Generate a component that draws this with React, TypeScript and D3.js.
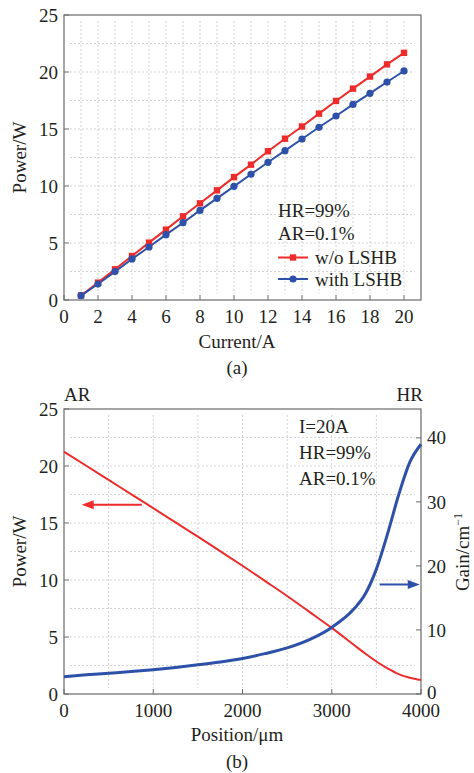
import React from 'react';
import * as d3 from 'd3';

// panel (a): output power vs current
const currents = [1, 2, 3, 4, 5, 6, 7, 8, 9, 10, 11, 12, 13, 14, 15, 16, 17, 18, 19, 20];
const powerNoLSHB = [0.4, 1.52, 2.69, 3.86, 5.03, 6.17, 7.34, 8.48, 9.62, 10.78, 11.87, 13.05, 14.15, 15.22, 16.35, 17.46, 18.54, 19.6, 20.67, 21.68];
const powerLSHB = [0.38, 1.4, 2.49, 3.6, 4.65, 5.73, 6.78, 7.86, 8.92, 9.97, 11.03, 12.08, 13.1, 14.12, 15.15, 16.14, 17.16, 18.13, 19.12, 20.09];
const xTicksA = [0, 2, 4, 6, 8, 10, 12, 14, 16, 18, 20];
const powerTicks = [0, 5, 10, 15, 20, 25];

// panel (b): longitudinal distribution at I=20A
const positions = [0, 250, 500, 750, 1000, 1250, 1500, 1750, 2000, 2250, 2500, 2750, 3000, 3250, 3375, 3500, 3625, 3750, 3875, 4000];
const powerAlong = [21.25, 20.02, 18.78, 17.54, 16.3, 15.05, 13.8, 12.53, 11.25, 9.93, 8.6, 7.2, 5.8, 4.3, 3.55, 2.85, 2.25, 1.75, 1.42, 1.22];
const gainAlong = [2.7, 3.0, 3.25, 3.5, 3.8, 4.15, 4.55, 5.0, 5.55, 6.3, 7.2, 8.5, 10.4, 13.3, 15.6, 19.5, 25.0, 31.1, 36.2, 39.0];
const xTicksB = [0, 1000, 2000, 3000, 4000];
const gainTicks = [0, 10, 20, 30, 40];

const RED = '#ee2b2b';
const BLUE = '#2d50a8';
const FRAME = '#6a6a6a';
const GRID = '#c8c8c8';
const TEXT = '#231f20';
const FONT = '"Liberation Serif", "Times New Roman", serif';
const FS = 19;

const L = 64;
const R = 421;

function Grid({ x, y, xs, ys, inset }: any) {
  const [x0, x1] = x.range();
  const [y0, y1] = y.range();
  return (
    <g stroke={GRID} strokeWidth={0.8} strokeDasharray="2,2">
      {xs.map((v: number) => (
        <line key={'gx' + v} x1={x(v)} x2={x(v)} y1={y1 + inset} y2={y0 - inset} />
      ))}
      {ys.map((v: number) => (
        <line key={'gy' + v} x1={x0 + inset} x2={x1 - inset} y1={y(v)} y2={y(v)} />
      ))}
    </g>
  );
}

function PanelA() {
  const top = 15;
  const bottom = 300;
  const x = d3.scaleLinear().domain([0, 21]).range([L, R]);
  const y = d3.scaleLinear().domain([0, 25]).range([bottom, top]);
  const gridX = d3.range(1, 21);
  const gridY = d3.range(2.5, 25, 2.5);
  const lineRed = d3.line<number>().x((_, i) => x(currents[i])).y(d => y(d));
  const lineBlue = d3.line<number>().x((_, i) => x(currents[i])).y(d => y(d));
  const lgX = 278;
  return (
    <g>
      <Grid x={x} y={y} xs={gridX} ys={gridY} inset={6} />
      <rect x={L} y={top} width={R - L} height={bottom - top} fill="none" stroke={FRAME} strokeWidth={1.2} />
      {powerTicks.map(v => (
        <g key={'yt' + v}>
          <line x1={L} x2={L + 5} y1={y(v)} y2={y(v)} stroke={FRAME} />
          <text x={58} y={y(v)} dy="0.35em" textAnchor="end">{v}</text>
        </g>
      ))}
      {xTicksA.map(v => (
        <g key={'xt' + v}>
          <line x1={x(v)} x2={x(v)} y1={bottom} y2={bottom - 5} stroke={FRAME} />
          <text x={x(v)} y={bottom + 23}  textAnchor="middle">{v}</text>
        </g>
      ))}
      <path d={lineRed(powerNoLSHB) || ''} fill="none" stroke={RED} strokeWidth={2} />
      <path d={lineBlue(powerLSHB) || ''} fill="none" stroke={BLUE} strokeWidth={2} />
      {powerNoLSHB.map((d, i) => (
        <rect key={'sq' + i} x={x(currents[i]) - 3.2} y={y(d) - 3.2} width={6.4} height={6.4} fill={RED} />
      ))}
      {powerLSHB.map((d, i) => (
        <circle key={'ci' + i} cx={x(currents[i])} cy={y(d)} r={3.6} fill={BLUE} />
      ))}
      <text x={lgX} y={216.5}>HR=99%</text>
      <text x={lgX} y={240}>AR=0.1%</text>
      <line x1={lgX} x2={lgX + 30} y1={257.5} y2={257.5} stroke={RED} strokeWidth={2} />
      <rect x={lgX + 15 - 3.2} y={257.5 - 3.2} width={6.4} height={6.4} fill={RED} />
      <text x={lgX + 37} y={264}>w/o LSHB</text>
      <line x1={lgX} x2={lgX + 30} y1={279} y2={279} stroke={BLUE} strokeWidth={2} />
      <circle cx={lgX + 15} cy={279} r={3.6} fill={BLUE} />
      <text x={lgX + 37} y={285.5}>with LSHB</text>
      <text transform={`translate(26,${(top + bottom) / 2}) rotate(-90)`} textAnchor="middle">Power/W</text>
      <text x={237} y={348} textAnchor="middle">Current/A</text>
      <text x={237} y={374} textAnchor="middle">(a)</text>
    </g>
  );
}

function PanelB() {
  const top = 409;
  const bottom = 694;
  const x = d3.scaleLinear().domain([0, 4000]).range([L, R]);
  const yP = d3.scaleLinear().domain([0, 25]).range([bottom, top]);
  const yG = d3.scaleLinear().domain([0, 44.5]).range([bottom, top]);
  const gridX = d3.range(500, 4000, 500);
  const gridY = d3.range(2.5, 25, 2.5);
  const linePower = d3.line<number>().x((_, i) => x(positions[i])).y(d => yP(d)).curve(d3.curveMonotoneX);
  const lineGain = d3.line<number>().x((_, i) => x(positions[i])).y(d => yG(d)).curve(d3.curveMonotoneX);
  const redArrowY = yP(16.6);
  const blueArrowY = yG(17.1);
  return (
    <g>
      <Grid x={x} y={yP} xs={gridX} ys={gridY} inset={6} />
      <rect x={L} y={top} width={R - L} height={bottom - top} fill="none" stroke={FRAME} strokeWidth={1.2} />
      {powerTicks.map(v => (
        <g key={'yl' + v}>
          <line x1={L} x2={L + 5} y1={yP(v)} y2={yP(v)} stroke={FRAME} />
          <text x={58} y={yP(v)} dy="0.35em" textAnchor="end">{v}</text>
        </g>
      ))}
      {gainTicks.map(v => (
        <g key={'yr' + v}>
          <line x1={R} x2={R - 5} y1={yG(v)} y2={yG(v)} stroke={FRAME} />
          <text x={427} y={yG(v) - (v === 0 ? 2 : 0)} dy="0.35em" textAnchor="start">{v}</text>
        </g>
      ))}
      {xTicksB.map(v => (
        <g key={'xb' + v}>
          <line x1={x(v)} x2={x(v)} y1={bottom} y2={bottom - 5} stroke={FRAME} />
          <text x={x(v)} y={bottom + 23} textAnchor="middle">{v}</text>
        </g>
      ))}
      <path d={linePower(powerAlong) || ''} fill="none" stroke={RED} strokeWidth={2} />
      <path d={lineGain(gainAlong) || ''} fill="none" stroke={BLUE} strokeWidth={3} />
      <line x1={x(872)} x2={x(198) + 10} y1={redArrowY} y2={redArrowY} stroke={RED} strokeWidth={2} />
      <path d={`M${x(198)},${redArrowY} l12,-4.5 l0,9 z`} fill={RED} />
      <line x1={x(3537)} x2={x(3986) - 10} y1={blueArrowY} y2={blueArrowY} stroke={BLUE} strokeWidth={2} />
      <path d={`M${x(3986)},${blueArrowY} l-12,-4.5 l0,9 z`} fill={BLUE} />
      <text x={L} y={401}>AR</text>
      <text x={R + 2} y={401} textAnchor="end">HR</text>
      <text x={299} y={433}>I=20A</text>
      <text x={299} y={459}>HR=99%</text>
      <text x={299} y={485}>AR=0.1%</text>
      <text transform={`translate(26,${(top + bottom) / 2}) rotate(-90)`} textAnchor="middle">Power/W</text>
      <text transform={`translate(469,552) rotate(-90)`} textAnchor="middle">
        Gain/cm<tspan dy="-7" fontSize={12}>−1</tspan>
      </text>
      <text x={237} y={741} textAnchor="middle">Position/μm</text>
      <text x={237} y={768} textAnchor="middle">(b)</text>
    </g>
  );
}

export default function App() {
  return (
    <svg
      width={474}
      height={773}
      style={{ position: 'absolute', left: 0, top: 0, background: '#fff' }}
      fontFamily={FONT}
      fontSize={FS}
      fill={TEXT}
    >
      <PanelA />
      <PanelB />
    </svg>
  );
}
